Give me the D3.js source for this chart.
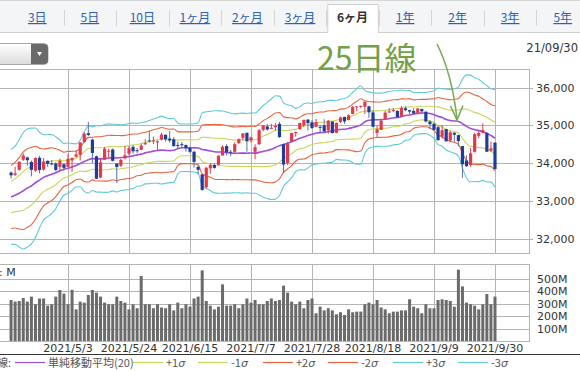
<!DOCTYPE html>
<html>
<head>
<meta charset="utf-8">
<script src="https://cdn.jsdelivr.net/npm/d3@7/dist/d3.min.js"></script>
<style>
  body { margin: 0; background: #fff; }
  svg { display: block; }
</style>
</head>
<body>
<div id="chart"></div>
<script>
// Trading days shown (6 months, 2021/4/13 - 2021/9/30)
var dates = [
  '4/13','4/14','4/15','4/16','4/19','4/20','4/21','4/22','4/23','4/26','4/27','4/28','4/29','4/30',
  '5/3','5/4','5/5','5/6','5/7','5/10','5/11','5/12','5/13','5/14','5/17','5/18','5/19','5/20','5/21',
  '5/24','5/25','5/26','5/27','5/28','6/1','6/2','6/3','6/4','6/7','6/8','6/9','6/10','6/11','6/14',
  '6/15','6/16','6/17','6/18','6/21','6/22','6/23','6/24','6/25','6/28','6/29','6/30','7/1','7/2','7/6',
  '7/7','7/8','7/9','7/12','7/13','7/14','7/15','7/16','7/19','7/20','7/21','7/22','7/23','7/26','7/27',
  '7/28','7/29','7/30','8/2','8/3','8/4','8/5','8/6','8/9','8/10','8/11','8/12','8/13','8/16','8/17',
  '8/18','8/19','8/20','8/23','8/24','8/25','8/26','8/27','8/30','8/31','9/1','9/2','9/3','9/7','9/8',
  '9/9','9/10','9/13','9/14','9/15','9/16','9/17','9/20','9/21','9/22','9/23','9/24','9/27','9/28','9/29','9/30'
];
var opens = [
  33750,33690,33820,34090,34150,34030,33800,34140,33830,34060,33990,33990,33900,33970,
  33900,34070,34170,34220,34560,34790,34620,34180,33620,34090,34320,34360,33990,33930,34130,
  34250,34430,34340,34350,34500,34600,34600,34550,34620,34750,34650,34630,34480,34500,34480,
  34400,34300,33900,33700,33360,33860,33950,33950,34200,34450,34300,34300,34530,34670,34800,
  34600,34300,34500,34880,34970,34930,34950,35040,34500,34000,34560,34800,34900,35000,35150,
  35080,34960,34960,35000,34870,35100,34800,35090,35220,35140,35300,35480,35500,35490,35500,
  35340,34800,34880,35170,35350,35380,35380,35230,35450,35400,35380,35330,35430,35360,35100,
  35040,34950,34700,34900,34600,34800,34740,34450,34070,33950,34300,34720,34800,34800,34330,34540
];
var highs = [
  33780,33900,34050,34257,34170,34070,34150,34190,34130,34070,34080,34020,34120,33990,
  34250,34150,34340,34550,34811,35091,34650,34200,34130,34420,34380,34390,33990,34120,34450,
  34450,34480,34400,34520,34630,34850,34700,34600,34800,34760,34850,34690,34570,34560,34490,
  34440,34330,33950,33720,33900,34000,34000,34200,34470,34500,34350,34550,34650,34790,34810,
  34700,34500,34900,35000,35030,35040,35060,35090,34510,34560,34800,34830,35070,35150,35170,
  35140,35170,35010,35160,35140,35110,35070,35230,35230,35290,35510,35500,35520,35630,35520,
  35400,35000,35150,35380,35450,35450,35400,35510,35500,35410,35450,35460,35440,35370,35130,
  35080,35000,35000,34910,34840,34820,34750,34450,34200,34400,34800,34850,35050,34820,34570,34560
];
var lows = [
  33590,33660,33800,34060,33930,33650,33770,33730,33800,33900,33940,33780,33800,33800,
  33900,33770,34150,34070,34540,34720,34000,33580,33600,34080,34150,34040,33470,33900,34100,
  34200,34250,34260,34340,34480,34540,34500,34330,34600,34570,34540,34440,34390,34420,34300,
  34260,33880,33700,33270,33330,33720,33850,33940,34200,34200,34180,34270,34500,34600,34300,
  34550,34100,34480,34840,34860,34900,34860,34670,33740,33950,34550,34700,34880,34950,34860,
  34900,34950,34800,34800,34780,34790,34790,35060,35040,35130,35290,35380,35450,35300,35200,
  34950,34690,34880,35150,35330,35350,35200,35220,35370,35300,35300,35330,35300,35080,34900,
  34860,34590,34650,34560,34550,34550,34450,33610,33900,33900,34280,34660,34800,34290,34290,33840
];
var closes = [
  33677,33730,34035,34200,34077,33821,34137,33815,34043,33981,33984,33820,34060,33874,
  34113,34133,34230,34548,34777,34742,34269,33587,34021,34382,34327,34060,33896,34084,34208,
  34394,34312,34323,34464,34529,34575,34600,34577,34756,34630,34599,34447,34466,34480,34394,
  34299,34033,33823,33290,33876,33945,33874,34196,34433,34283,34292,34502,34633,34786,34577,
  34681,34421,34870,34996,34889,34933,34987,34687,33962,34511,34798,34823,35061,35144,35058,
  34930,35085,34935,34838,35117,34793,35064,35208,35102,35265,35485,35500,35516,35625,35343,
  34961,34894,35120,35336,35367,35406,35214,35456,35400,35361,35313,35444,35369,35100,35031,
  34879,34608,34870,34578,34815,34751,34584,33970,33919,34258,34765,34798,34870,34300,34390,33844
];
// Closes of the 19 sessions before the first visible day (needed for the 20-day band)
var priorCloses = [
  32826,33015,32862,32627,32731,32423,32420,32619,33072,33171,33066,32982,33153,
  33527,33430,33446,33504,33801,33745
];
// Volume in millions of shares
var volumes = [
  328,315,320,344,315,355,294,340,340,283,294,355,408,379,
  294,410,253,315,307,368,408,387,355,307,294,294,355,320,307,
  253,294,262,520,294,294,262,294,268,262,294,245,307,262,294,
  275,340,355,565,320,283,253,275,453,283,283,294,262,294,340,
  307,328,294,294,320,340,320,328,443,387,315,294,315,262,328,
  340,222,275,245,262,245,214,230,208,253,230,235,235,294,307,
  294,328,268,253,222,235,235,245,245,334,275,262,222,294,262,
  262,328,334,328,320,275,571,437,307,294,283,253,294,376,294,355
];
var dateTicks = ['5/3','5/24','6/15','7/7','7/28','8/18','9/9','9/30'];
var priceTicks = [32000, 33000, 34000, 35000, 36000];
var volumeTicks = [100, 200, 300, 400, 500];
var periodTabs = ['3日','5日','10日','1ヶ月','2ヶ月','3ヶ月','6ヶ月','1年','2年','3年','5年'];
var activeTab = '6ヶ月';
var bandNames = [
  { key: 'sma', label: '単純移動平均(20)', k: 0, color: '#a24ed6' },
  { key: 'p1', label: '+1σ', k: 1, color: '#c9d75c' },
  { key: 'm1', label: '-1σ', k: -1, color: '#c9d75c' },
  { key: 'p2', label: '+2σ', k: 2, color: '#e4663f' },
  { key: 'm2', label: '-2σ', k: -2, color: '#e4663f' },
  { key: 'p3', label: '+3σ', k: 3, color: '#5fcad8' },
  { key: 'm3', label: '-3σ', k: -3, color: '#5fcad8' }
];

var W = 580, H = 371;
var plotRight = 529;
var priceTop = 69, priceBottom = 253;
var volTop = 264, volBottom = 341;
var jp = '"Noto Sans CJK JP", sans-serif';
var num = '"DejaVu Sans", sans-serif';
var gridColor = '#b4b4b4';

var svg = d3.select('#chart').append('svg')
  .attr('width', W)
  .attr('height', H);

// ---- period tabs ----
var tabBar = svg.append('g');
tabBar.append('rect')
  .attr('x', 0).attr('y', 0).attr('width', W).attr('height', 32)
  .attr('fill', '#f4f5f6');
tabBar.append('line')
  .attr('x1', 0).attr('x2', W).attr('y1', 0.5).attr('y2', 0.5)
  .attr('stroke', '#d6d6d6');
tabBar.append('line')
  .attr('x1', 0).attr('x2', W).attr('y1', 32.5).attr('y2', 32.5)
  .attr('stroke', '#cfcfcf');

var tabScale = d3.scaleBand()
  .domain(periodTabs)
  .range([11, 589]);

tabBar.selectAll('line.sep')
  .data(periodTabs.filter(function (t, i) { return i > 0; }))
  .enter()
  .append('line')
  .attr('class', 'sep')
  .attr('x1', function (d) { return Math.round(tabScale(d)) + 0.5; })
  .attr('x2', function (d) { return Math.round(tabScale(d)) + 0.5; })
  .attr('y1', 10).attr('y2', 26)
  .attr('stroke', '#d4d4d4');

var act = tabBar.append('g');
act.append('path')
  .attr('d', 'M' + (tabScale(activeTab) + 1.5) + ',33 V4.5 H' + (tabScale(activeTab) + tabScale.bandwidth() - 0.5) + ' V33')
  .attr('fill', '#fff')
  .attr('stroke', '#cfcfcf');

tabBar.selectAll('text.tab')
  .data(periodTabs)
  .enter()
  .append('text')
  .attr('class', 'tab')
  .attr('x', function (d) { return tabScale(d) + tabScale.bandwidth() / 2; })
  .attr('y', 22)
  .attr('text-anchor', 'middle')
  .attr('font-family', jp)
  .attr('font-size', 12)
  .attr('font-weight', function (d) { return d === activeTab ? 'bold' : 'normal'; })
  .attr('fill', function (d) { return d === activeTab ? '#333' : '#2d5fb4'; })
  .attr('text-decoration', function (d) { return d === activeTab ? 'none' : 'underline'; })
  .text(function (d) { return d; });

// ---- select box (cut at the left edge) ----
var grad = svg.append('defs').append('linearGradient')
  .attr('id', 'selgrad').attr('x1', 0).attr('x2', 0).attr('y1', 0).attr('y2', 1);
grad.append('stop').attr('offset', '0%').attr('stop-color', '#ffffff');
grad.append('stop').attr('offset', '100%').attr('stop-color', '#dcdcdc');
svg.append('rect')
  .attr('x', -10).attr('y', 43.5).attr('width', 58).attr('height', 21).attr('rx', 4)
  .attr('fill', 'url(#selgrad)').attr('stroke', '#a8a8a8');
svg.append('path')
  .attr('d', 'M31,44 H44 Q48,44 48,48 V60 Q48,64 44,64 H31 Z')
  .attr('fill', '#6a6a6a');
svg.append('path')
  .attr('d', 'M37,52 L42,52 L39.5,56 Z')
  .attr('fill', '#fff');

svg.append('text')
  .attr('x', 578).attr('y', 52)
  .attr('text-anchor', 'end')
  .attr('font-family', num)
  .attr('font-size', 11.5)
  .attr('fill', '#333')
  .text('21/09/30');

// ---- scales ----
var x = d3.scaleBand()
  .domain(dates)
  .range([9.03, 497.03]);
var bw = x.bandwidth();
function cx(d) { return x(d) + bw / 2; }

var y = d3.scaleLinear()
  .domain([32000, 36000])
  .range([238.7, 87.5]);

var yv = d3.scaleLinear()
  .domain([0, 500])
  .range([volBottom, 278.5]);

// ---- panels & grid ----
var grid = svg.append('g');
[[priceTop, priceBottom], [volTop, volBottom]].forEach(function (p) {
  grid.append('rect')
    .attr('x', -5).attr('y', p[0] + 0.5)
    .attr('width', plotRight + 5.5).attr('height', p[1] - p[0])
    .attr('fill', 'none').attr('stroke', gridColor);
  grid.selectAll(null)
    .data(dateTicks)
    .enter()
    .append('line')
    .attr('x1', function (d) { return Math.round(cx(d)) + 0.5; })
    .attr('x2', function (d) { return Math.round(cx(d)) + 0.5; })
    .attr('y1', p[0]).attr('y2', p[1])
    .attr('stroke', gridColor);
});

grid.selectAll('line.hp')
  .data(priceTicks)
  .enter()
  .append('line')
  .attr('class', 'hp')
  .attr('x1', -5).attr('x2', plotRight + 4)
  .attr('y1', function (d) { return Math.round(y(d)) + 0.5; })
  .attr('y2', function (d) { return Math.round(y(d)) + 0.5; })
  .attr('stroke', gridColor);

grid.selectAll('line.hv')
  .data(volumeTicks)
  .enter()
  .append('line')
  .attr('class', 'hv')
  .attr('x1', -5).attr('x2', plotRight)
  .attr('y1', function (d) { return Math.round(yv(d)) + 0.5; })
  .attr('y2', function (d) { return Math.round(yv(d)) + 0.5; })
  .attr('stroke', gridColor);

svg.selectAll('text.py')
  .data(priceTicks)
  .enter()
  .append('text')
  .attr('class', 'py')
  .attr('x', 536)
  .attr('y', function (d) { return y(d) + 4; })
  .attr('font-family', num)
  .attr('font-size', 11)
  .attr('fill', '#333')
  .text(function (d) { return d3.format(',')(d); });

svg.selectAll('text.vy')
  .data(volumeTicks)
  .enter()
  .append('text')
  .attr('class', 'vy')
  .attr('x', 537)
  .attr('y', function (d) { return yv(d) + 4; })
  .attr('font-family', num)
  .attr('font-size', 11)
  .attr('fill', '#333')
  .text(function (d) { return d + 'M'; });

svg.append('text')
  .attr('x', -1).attr('y', 276)
  .attr('font-family', num)
  .attr('font-size', 11)
  .attr('fill', '#333')
  .text(': M');

svg.selectAll('text.dx')
  .data(dateTicks)
  .enter()
  .append('text')
  .attr('class', 'dx')
  .attr('x', function (d) { return cx(d); })
  .attr('y', 352)
  .attr('text-anchor', 'middle')
  .attr('font-family', num)
  .attr('font-size', 11)
  .attr('fill', '#333')
  .text(function (d) { return '2021/' + d; });

// ---- Bollinger bands (20-day SMA +/- k sigma) ----
var allCloses = priorCloses.concat(closes);
var bandData = dates.map(function (d, i) {
  var win = allCloses.slice(i, i + 20);
  var m = d3.mean(win);
  var sd = Math.sqrt(d3.mean(win, function (v) { return (v - m) * (v - m); }));
  return { date: d, mean: m, sd: sd };
});

svg.append('clipPath').attr('id', 'pclip')
  .append('rect').attr('x', 0).attr('y', priceTop + 1)
  .attr('width', plotRight).attr('height', priceBottom - priceTop - 1);

var bandG = svg.append('g').attr('clip-path', 'url(#pclip)');
bandNames.slice().reverse().forEach(function (b) {
  var line = d3.line()
    .x(function (d) { return cx(d.date); })
    .y(function (d) { return y(d.mean + b.k * d.sd); })
    .curve(d3.curveMonotoneX);
  bandG.append('path')
    .datum(bandData)
    .attr('d', line)
    .attr('fill', 'none')
    .attr('stroke', b.color)
    .attr('stroke-width', b.k === 0 ? 1.6 : 1.1);
});

// ---- candles ----
var candles = dates.map(function (d, i) {
  return { date: d, o: opens[i], h: highs[i], l: lows[i], c: closes[i] };
});
function candleColor(d) { return d.c >= d.o ? '#e2394c' : '#1f3c97'; }

var cg = svg.append('g').attr('clip-path', 'url(#pclip)');
cg.selectAll('line.wick')
  .data(candles)
  .enter()
  .append('line')
  .attr('class', 'wick')
  .attr('x1', function (d) { return cx(d.date); })
  .attr('x2', function (d) { return cx(d.date); })
  .attr('y1', function (d) { return y(d.h); })
  .attr('y2', function (d) { return y(d.l); })
  .attr('stroke', function (d) { return d.c >= d.o ? '#e2394c' : '#5b6fa8'; })
  .attr('stroke-width', 1);

cg.selectAll('rect.body')
  .data(candles)
  .enter()
  .append('rect')
  .attr('class', 'body')
  .attr('x', function (d) { return cx(d.date) - 1.6; })
  .attr('width', 3.2)
  .attr('y', function (d) { return y(Math.max(d.o, d.c)); })
  .attr('height', function (d) { return Math.max(1, Math.abs(y(d.o) - y(d.c))); })
  .attr('fill', candleColor);

// ---- volume ----
svg.append('g').selectAll('rect')
  .data(volumes)
  .enter()
  .append('rect')
  .attr('x', function (v, i) { return cx(dates[i]) - 1.5; })
  .attr('width', 3)
  .attr('y', function (v) { return yv(v); })
  .attr('height', function (v) { return volBottom - yv(v); })
  .attr('fill', '#6b6b6b');

// ---- 25日線 annotation ----
svg.append('text')
  .attr('x', 317).attr('y', 70)
  .attr('font-family', jp)
  .attr('font-size', 32)
  .attr('fill', '#74a04a')
  .text('25日線');
svg.append('path')
  .attr('d', 'M437,44 Q452,74 457,119')
  .attr('fill', 'none')
  .attr('stroke', '#7ea95a')
  .attr('stroke-width', 1.6);
svg.append('path')
  .attr('d', 'M450.5,106 L457,120 L463,105.5')
  .attr('fill', 'none')
  .attr('stroke', '#7ea95a')
  .attr('stroke-width', 1.6);

// ---- legend ----
svg.append('line')
  .attr('x1', 0).attr('x2', W).attr('y1', 354.5).attr('y2', 354.5)
  .attr('stroke', '#333');

var legend = svg.append('g').attr('font-family', jp).attr('font-size', 11).attr('fill', '#555');
legend.append('text').attr('x', 11).attr('y', 366.5).attr('text-anchor', 'end').text('線:');
bandNames.forEach(function (b, i) {
  var lx = i === 0 ? 15 : 133 + (i - 1) * 65;
  legend.append('line')
    .attr('x1', lx).attr('x2', lx + 30)
    .attr('y1', 362.5).attr('y2', 362.5)
    .attr('stroke', b.color).attr('stroke-width', 1.2);
  var t = legend.append('text').attr('x', lx + 33).attr('y', 366.5);
  if (b.k === 0) {
    t.text(b.label);
  } else {
    t.append('tspan').text(b.label.slice(0, 2));
    t.append('tspan').attr('font-style', 'italic').attr('font-family', num).text('σ');
  }
});
</script>
</body>
</html>
